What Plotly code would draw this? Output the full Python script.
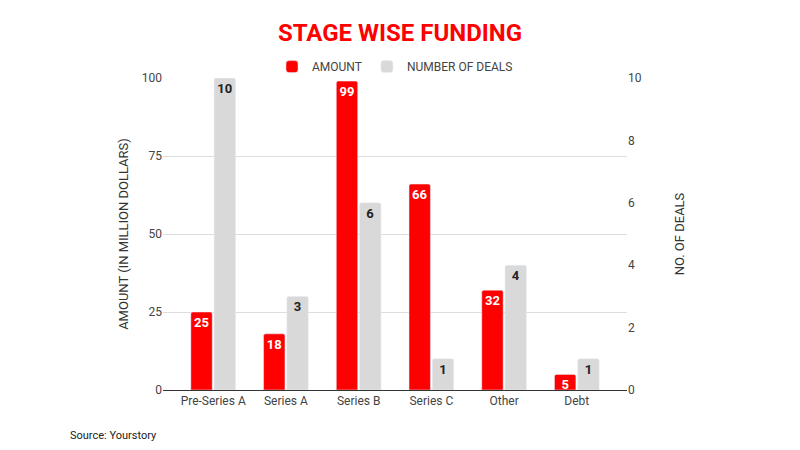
import plotly.graph_objects as go

categories = ["Pre-Series A", "Series A", "Series B", "Series C", "Other", "Debt"]
amount = [25, 18, 99, 66, 32, 5]
deals = [10, 3, 6, 1, 4, 1]
left_ticks = [0, 25, 50, 75, 100]
right_ticks = [0, 2, 4, 6, 8, 10]

RED = "#ff0000"
GREY = "#d9d9d9"
FONT = "Roboto"

fig = go.Figure()
fig.add_trace(go.Bar(
    x=categories, y=amount, name="AMOUNT", marker=dict(color=RED, cornerradius=2),
    text=[str(v) for v in amount], textposition="inside", insidetextanchor="end", textangle=0,
    textfont=dict(color="white", size=13, family=FONT, weight="bold"),
    constraintext="none", offsetgroup="a", yaxis="y", cliponaxis=False,
))
fig.add_trace(go.Bar(
    x=categories, y=deals, name="NUMBER OF DEALS", marker=dict(color=GREY, cornerradius=2),
    text=[str(v) for v in deals], textposition="inside", insidetextanchor="end", textangle=0,
    textfont=dict(color="#222222", size=13, family=FONT, weight="bold"),
    constraintext="none", offsetgroup="b", yaxis="y2", cliponaxis=False,
))

fig.update_layout(
    width=800, height=450,
    margin=dict(l=163, r=173, t=78, b=60),
    paper_bgcolor="white", plot_bgcolor="white",
    font=dict(family=FONT, color="#444444", size=12),
    barmode="group", bargap=0.36, bargroupgap=0.08,
    showlegend=True,
    legend=dict(orientation="h", x=0.5, xanchor="center", y=0.99, yanchor="bottom",
                font=dict(size=12, color="#444444"), itemwidth=30, traceorder="normal"),
    title=dict(text="STAGE WISE FUNDING", x=0.5, xanchor="center", y=0.928, yanchor="middle",
               font=dict(family="Roboto", size=24, color=RED, weight="bold")),
    xaxis=dict(range=[-0.69, 5.69], showline=True, linecolor="#333333", linewidth=1,
               ticks="", tickfont=dict(size=12, color="#444444"), showgrid=False),
    yaxis=dict(range=[0, 100], tickvals=left_ticks, showgrid=True, gridcolor="#dddddd",
               zeroline=False, tickfont=dict(size=12, color="#444444"),
               title=dict(text="AMOUNT (IN MILLION DOLLARS)", font=dict(size=13, color="#333333"), standoff=10)),
    yaxis2=dict(range=[0, 10], tickvals=right_ticks, overlaying="y", side="right",
                showgrid=False, zeroline=False, tickfont=dict(size=12, color="#444444"),
                title=dict(text="NO. OF DEALS", font=dict(size=13, color="#333333"), standoff=34)),
    annotations=[dict(text="Source: Yourstory", x=68, y=435, xref="paper", yref="paper",
                      showarrow=False, font=dict(size=11, color="#222222"))],
)
fig.layout.annotations[0].update(x=(68 - 163) / (800 - 163 - 173), y=-(435 - 390) / (390 - 78),
                                 xanchor="left", yanchor="middle")

fig.write_html("out.html")
